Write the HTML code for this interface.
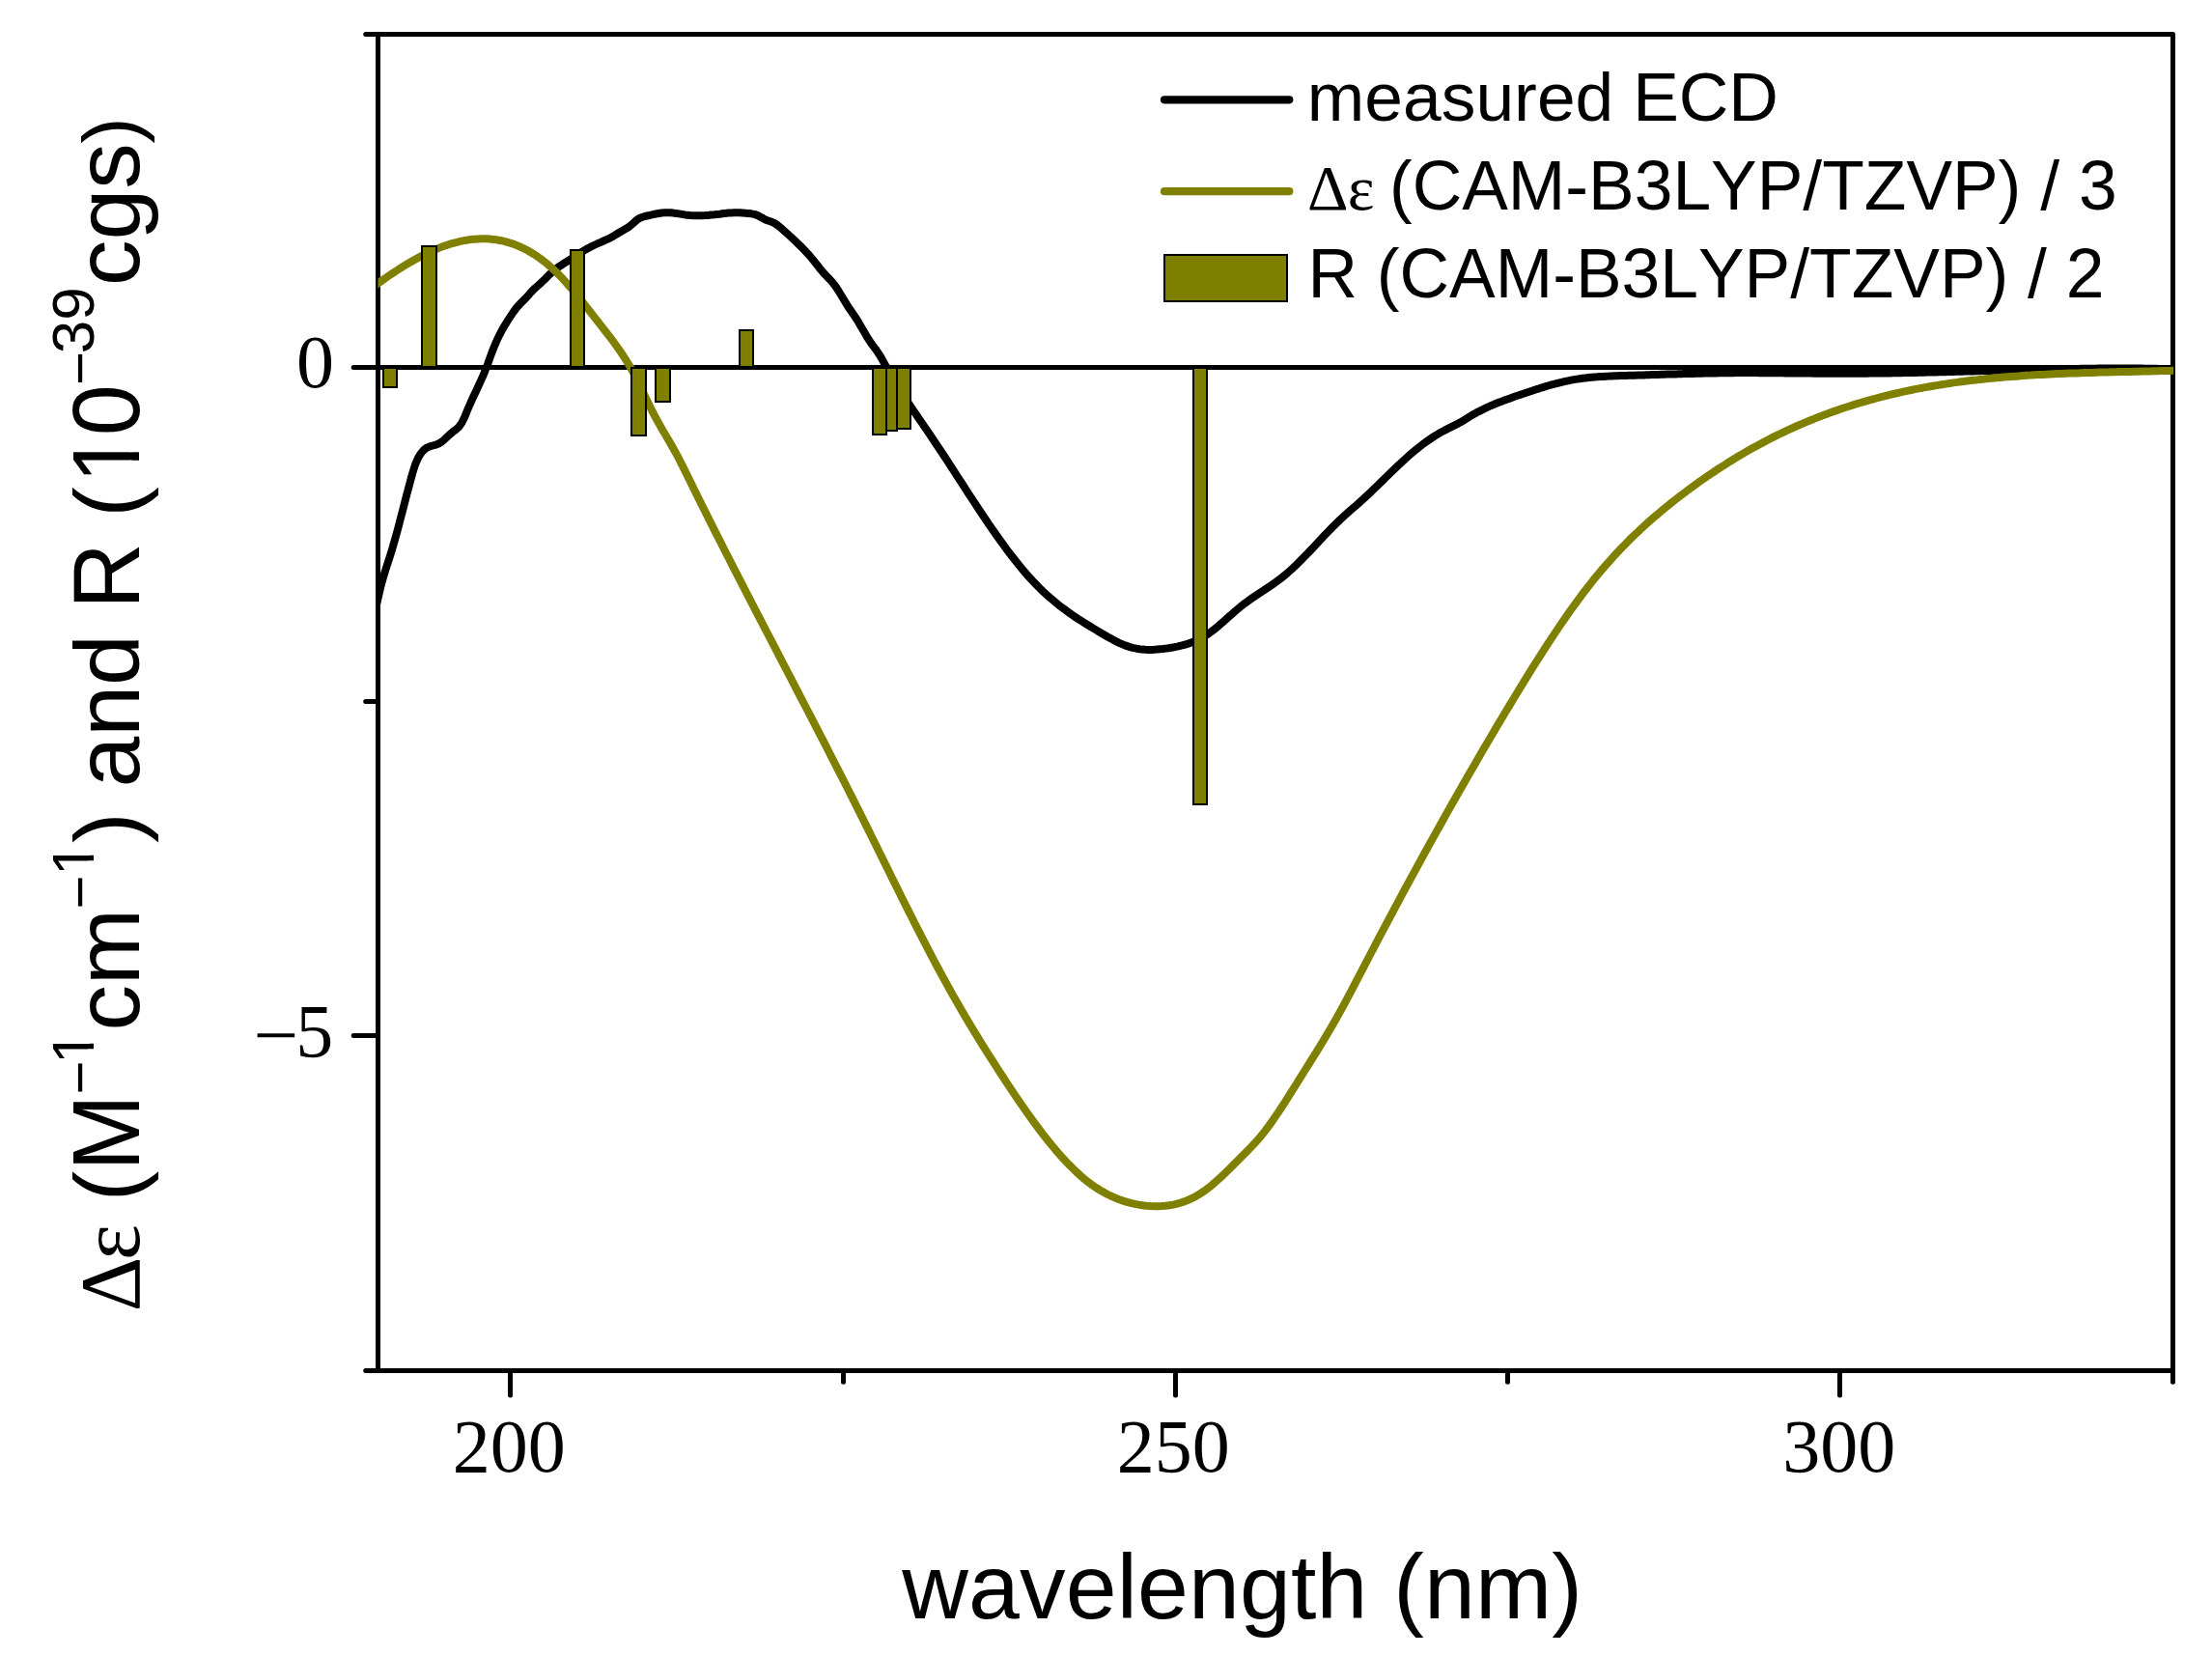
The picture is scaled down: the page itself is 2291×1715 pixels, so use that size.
<!DOCTYPE html>
<html><head><meta charset="utf-8"><title>ECD spectrum</title>
<style>html,body{margin:0;padding:0;background:#fff}svg text{font-kerning:none;fill:#000}</style></head>
<body>
<svg width="2291" height="1715" viewBox="0 0 2291 1715" style="display:block">
<defs><clipPath id="pc"><rect x="391.5" y="0" width="1859.6" height="1715"/></clipPath><clipPath id="one62"><rect x="-2" y="-62.00" width="62.00" height="55.99"/><rect x="15.59" y="-9.30" width="5.47" height="10.30"/></clipPath><clipPath id="one95"><rect x="-2" y="-95.00" width="95.00" height="85.78"/><rect x="23.89" y="-14.25" width="8.39" height="15.25"/></clipPath></defs>
<rect width="2291" height="1715" fill="#fff"/>
<g stroke="#000" stroke-width="5" stroke-linecap="round" stroke-linejoin="round" fill="none">
<path d="M391.5,35.5 H2250.5 V1419.5 H391.5 Z"/>
<path d="M391.5,380.5 H2250.5" stroke-width="5" stroke-linecap="butt"/>
<path d="M378.7,35.5 H391.5"/>
<path d="M366.2,380.5 H391.5"/>
<path d="M378.7,726.5 H391.5"/>
<path d="M366.2,1072.5 H391.5"/>
<path d="M378.7,1419.5 H391.5"/>
<path d="M528.5,1419.5 V1445.0"/>
<path d="M873.5,1419.5 V1431.2"/>
<path d="M1217.5,1419.5 V1445.0"/>
<path d="M1561.5,1419.5 V1431.2"/>
<path d="M1905.5,1419.5 V1445.0"/>
<path d="M2250.5,1419.5 V1431.2"/>
</g>
<g clip-path="url(#pc)" fill="none" stroke-width="8.0" stroke-linejoin="round" stroke-linecap="butt">
<path d="M383.2,655.9 L391.2,621.0 L394.2,607.9 L397.2,597.0 L400.2,587.4 L403.2,578.2 L406.2,568.6 L409.2,558.2 L412.2,547.2 L415.2,535.7 L418.2,524.2 L421.2,512.6 L424.2,501.2 L427.2,490.1 L430.2,480.6 L433.2,473.8 L436.2,469.1 L439.2,465.8 L442.2,463.6 L445.2,462.3 L448.2,461.5 L451.2,460.7 L454.2,459.6 L457.2,457.7 L460.2,455.2 L463.2,452.4 L466.2,449.6 L469.2,447.1 L472.2,444.9 L475.2,442.2 L478.2,438.0 L481.2,431.9 L484.2,424.6 L487.2,417.6 L490.2,411.0 L493.2,404.7 L496.2,398.3 L499.2,391.7 L502.2,384.6 L505.2,376.9 L508.2,368.5 L511.2,360.5 L514.2,353.4 L517.2,347.1 L520.2,341.4 L523.2,336.3 L526.2,331.5 L529.2,326.9 L532.2,322.5 L535.2,318.5 L538.2,315.2 L541.2,312.2 L544.2,309.2 L547.2,305.8 L550.2,302.4 L553.2,299.3 L556.2,296.6 L559.2,294.0 L562.2,291.2 L565.2,288.3 L568.2,285.2 L571.2,282.3 L574.2,279.7 L577.2,277.4 L580.2,275.3 L583.2,273.3 L586.2,271.5 L589.2,269.6 L592.2,267.7 L595.2,265.7 L598.2,263.7 L601.2,261.7 L604.2,259.9 L607.2,258.1 L610.2,256.5 L613.2,254.9 L616.2,253.5 L619.2,252.1 L622.2,250.8 L625.2,249.5 L628.2,248.2 L631.2,246.8 L634.2,245.2 L637.2,243.4 L640.2,241.5 L643.2,239.7 L646.2,238.0 L649.2,236.3 L652.2,234.3 L655.2,231.8 L658.2,229.0 L661.2,226.7 L664.2,225.2 L667.2,224.2 L670.2,223.5 L673.2,222.8 L676.2,222.1 L679.2,221.5 L682.2,221.0 L685.2,220.5 L688.2,220.3 L691.2,220.2 L694.2,220.3 L697.2,220.6 L700.2,221.0 L703.2,221.4 L706.2,221.9 L709.2,222.4 L712.2,222.7 L715.2,223.0 L718.2,223.2 L721.2,223.2 L724.2,223.3 L727.2,223.2 L730.2,223.1 L733.2,222.9 L736.2,222.6 L739.2,222.4 L742.2,222.0 L745.2,221.7 L748.2,221.3 L751.2,220.9 L754.2,220.6 L757.2,220.4 L760.2,220.2 L763.2,220.2 L766.2,220.3 L769.2,220.5 L772.2,220.7 L775.2,221.0 L778.2,221.3 L781.2,221.9 L784.2,222.9 L787.2,224.4 L790.2,226.1 L793.2,227.7 L796.2,228.8 L799.2,229.8 L802.2,231.2 L805.2,233.2 L808.2,235.6 L811.2,238.2 L814.2,240.9 L817.2,243.6 L820.2,246.4 L823.2,249.2 L826.2,252.1 L829.2,255.0 L832.2,258.0 L835.2,261.2 L838.2,264.5 L841.2,268.0 L844.2,271.8 L847.2,275.6 L850.2,279.4 L853.2,282.9 L856.2,286.0 L859.2,289.1 L862.2,292.4 L865.2,296.2 L868.2,300.8 L871.2,305.8 L874.2,310.8 L877.2,315.7 L880.2,320.2 L883.2,324.6 L886.2,329.0 L889.2,333.7 L892.2,338.9 L895.2,344.1 L898.2,349.3 L901.2,353.9 L904.2,358.1 L907.2,362.0 L910.2,366.4 L913.2,371.4 L916.2,376.9 L919.2,382.3 L922.2,387.6 L925.2,392.7 L928.2,397.7 L931.2,402.5 L934.2,407.3 L937.2,411.9 L940.2,416.5 L943.2,421.0 L946.2,425.4 L949.2,429.8 L952.2,434.2 L955.2,438.6 L958.2,443.0 L961.2,447.3 L964.2,451.7 L967.2,456.2 L970.2,460.7 L973.2,465.2 L976.2,469.7 L979.2,474.3 L982.2,478.9 L985.2,483.5 L988.2,488.1 L991.2,492.8 L994.2,497.4 L997.2,502.0 L1000.2,506.6 L1003.2,511.3 L1006.2,515.9 L1009.2,520.4 L1012.2,525.0 L1015.2,529.5 L1018.2,534.0 L1021.2,538.5 L1024.2,542.9 L1027.2,547.3 L1030.2,551.6 L1033.2,555.9 L1036.2,560.1 L1039.2,564.2 L1042.2,568.3 L1045.2,572.3 L1048.2,576.2 L1051.2,580.0 L1054.2,583.8 L1057.2,587.5 L1060.2,591.1 L1063.2,594.6 L1066.2,598.0 L1069.2,601.3 L1072.2,604.4 L1075.2,607.5 L1078.2,610.5 L1081.2,613.3 L1084.2,616.1 L1087.2,618.8 L1090.2,621.3 L1093.2,623.8 L1096.2,626.3 L1099.2,628.6 L1102.2,630.8 L1105.2,633.0 L1108.2,635.2 L1111.2,637.3 L1114.2,639.3 L1117.2,641.3 L1120.2,643.2 L1123.2,645.1 L1126.2,647.0 L1129.2,648.8 L1132.2,650.6 L1135.2,652.4 L1138.2,654.2 L1141.2,656.0 L1144.2,657.7 L1147.2,659.5 L1150.2,661.1 L1153.2,662.8 L1156.2,664.3 L1159.2,665.8 L1162.2,667.1 L1165.2,668.4 L1168.2,669.4 L1171.2,670.4 L1174.2,671.1 L1177.2,671.7 L1180.2,672.2 L1183.2,672.6 L1186.2,672.8 L1189.2,672.9 L1192.2,672.9 L1195.2,672.8 L1198.2,672.6 L1201.2,672.3 L1204.2,672.0 L1207.2,671.6 L1210.2,671.2 L1213.2,670.7 L1216.2,670.2 L1219.2,669.6 L1222.2,668.9 L1225.2,668.2 L1228.2,667.3 L1231.2,666.4 L1234.2,665.3 L1237.2,664.1 L1240.2,662.8 L1243.2,661.3 L1246.2,659.7 L1249.2,657.8 L1252.2,655.8 L1255.2,653.7 L1258.2,651.3 L1261.2,648.9 L1264.2,646.3 L1267.2,643.7 L1270.2,641.0 L1273.2,638.3 L1276.2,635.7 L1279.2,633.0 L1282.2,630.5 L1285.2,628.0 L1288.2,625.6 L1291.2,623.4 L1294.2,621.2 L1297.2,619.1 L1300.2,617.1 L1303.2,615.1 L1306.2,613.1 L1309.2,611.2 L1312.2,609.2 L1315.2,607.2 L1318.2,605.1 L1321.2,603.0 L1324.2,600.8 L1327.2,598.5 L1330.2,596.1 L1333.2,593.6 L1336.2,590.9 L1339.2,588.2 L1342.2,585.3 L1345.2,582.4 L1348.2,579.4 L1351.2,576.3 L1354.2,573.2 L1357.2,570.1 L1360.2,566.9 L1363.2,563.7 L1366.2,560.5 L1369.2,557.3 L1372.2,554.1 L1375.2,551.0 L1378.2,547.9 L1381.2,544.8 L1384.2,541.9 L1387.2,539.0 L1390.2,536.2 L1393.2,533.4 L1396.2,530.7 L1399.2,528.1 L1402.2,525.5 L1405.2,522.9 L1408.2,520.2 L1411.2,517.5 L1414.2,514.8 L1417.2,512.0 L1420.2,509.1 L1423.2,506.2 L1426.2,503.3 L1429.2,500.4 L1432.2,497.5 L1435.2,494.5 L1438.2,491.6 L1441.2,488.7 L1444.2,485.8 L1447.2,482.9 L1450.2,480.1 L1453.2,477.3 L1456.2,474.6 L1459.2,471.9 L1462.2,469.3 L1465.2,466.8 L1468.2,464.4 L1471.2,462.0 L1474.2,459.7 L1477.2,457.5 L1480.2,455.4 L1483.2,453.4 L1486.2,451.4 L1489.2,449.6 L1492.2,447.8 L1495.2,446.2 L1498.2,444.6 L1501.2,443.1 L1504.2,441.6 L1507.2,440.1 L1510.2,438.6 L1513.2,436.9 L1516.2,435.2 L1519.2,433.3 L1522.2,431.4 L1525.2,429.6 L1528.2,427.9 L1531.2,426.3 L1534.2,424.8 L1537.2,423.3 L1540.2,421.9 L1543.2,420.5 L1546.2,419.3 L1549.2,418.0 L1552.2,416.8 L1555.2,415.7 L1558.2,414.6 L1561.2,413.5 L1564.2,412.4 L1567.2,411.3 L1570.2,410.3 L1573.2,409.3 L1576.2,408.2 L1579.2,407.2 L1582.2,406.2 L1585.2,405.2 L1588.2,404.2 L1591.2,403.2 L1594.2,402.3 L1597.2,401.3 L1600.2,400.4 L1603.2,399.5 L1606.2,398.7 L1609.2,397.9 L1612.2,397.1 L1615.2,396.3 L1618.2,395.6 L1621.2,394.9 L1624.2,394.3 L1627.2,393.7 L1630.2,393.1 L1633.2,392.6 L1636.2,392.2 L1639.2,391.8 L1642.2,391.4 L1645.2,391.1 L1648.2,390.8 L1651.2,390.5 L1654.2,390.3 L1657.2,390.0 L1660.2,389.9 L1663.2,389.7 L1666.2,389.6 L1669.2,389.4 L1672.2,389.3 L1675.2,389.2 L1678.2,389.1 L1681.2,389.0 L1684.2,388.9 L1687.2,388.8 L1690.2,388.7 L1693.2,388.7 L1696.2,388.6 L1699.2,388.5 L1702.2,388.4 L1705.2,388.3 L1708.2,388.2 L1711.2,388.1 L1714.2,388.0 L1717.2,387.9 L1720.2,387.8 L1723.2,387.7 L1726.2,387.6 L1729.2,387.5 L1732.2,387.4 L1735.2,387.4 L1738.2,387.3 L1741.2,387.2 L1744.2,387.1 L1747.2,387.0 L1750.2,386.9 L1753.2,386.9 L1756.2,386.8 L1759.2,386.7 L1762.2,386.7 L1765.2,386.6 L1768.2,386.5 L1771.2,386.5 L1774.2,386.4 L1777.2,386.4 L1780.2,386.3 L1783.2,386.3 L1786.2,386.2 L1789.2,386.2 L1792.2,386.2 L1795.2,386.2 L1798.2,386.1 L1801.2,386.1 L1804.2,386.1 L1807.2,386.1 L1810.2,386.1 L1813.2,386.1 L1816.2,386.1 L1819.2,386.1 L1822.2,386.2 L1825.2,386.2 L1828.2,386.2 L1831.2,386.2 L1834.2,386.2 L1837.2,386.3 L1840.2,386.3 L1843.2,386.3 L1846.2,386.3 L1849.2,386.4 L1852.2,386.4 L1855.2,386.4 L1858.2,386.5 L1861.2,386.5 L1864.2,386.5 L1867.2,386.6 L1870.2,386.6 L1873.2,386.6 L1876.2,386.6 L1879.2,386.7 L1882.2,386.7 L1885.2,386.7 L1888.2,386.7 L1891.2,386.8 L1894.2,386.8 L1897.2,386.8 L1900.2,386.8 L1903.2,386.8 L1906.2,386.8 L1909.2,386.8 L1912.2,386.8 L1915.2,386.8 L1918.2,386.8 L1921.2,386.8 L1924.2,386.7 L1927.2,386.7 L1930.2,386.7 L1933.2,386.7 L1936.2,386.6 L1939.2,386.6 L1942.2,386.6 L1945.2,386.5 L1948.2,386.5 L1951.2,386.5 L1954.2,386.4 L1957.2,386.4 L1960.2,386.3 L1963.2,386.3 L1966.2,386.2 L1969.2,386.2 L1972.2,386.1 L1975.2,386.0 L1978.2,386.0 L1981.2,385.9 L1984.2,385.9 L1987.2,385.8 L1990.2,385.7 L1993.2,385.7 L1996.2,385.6 L1999.2,385.5 L2002.2,385.5 L2005.2,385.4 L2008.2,385.3 L2011.2,385.2 L2014.2,385.2 L2017.2,385.1 L2020.2,385.0 L2023.2,384.9 L2026.2,384.8 L2029.2,384.8 L2032.2,384.7 L2035.2,384.6 L2038.2,384.5 L2041.2,384.4 L2044.2,384.4 L2047.2,384.3 L2050.2,384.2 L2053.2,384.1 L2056.2,384.0 L2059.2,384.0 L2062.2,383.9 L2065.2,383.8 L2068.2,383.7 L2071.2,383.6 L2074.2,383.6 L2077.2,383.5 L2080.2,383.4 L2083.2,383.3 L2086.2,383.2 L2089.2,383.2 L2092.2,383.1 L2095.2,383.0 L2098.2,382.9 L2101.2,382.9 L2104.2,382.8 L2107.2,382.7 L2110.2,382.7 L2113.2,382.6 L2116.2,382.5 L2119.2,382.5 L2122.2,382.4 L2125.2,382.3 L2128.2,382.3 L2131.2,382.2 L2134.2,382.2 L2137.2,382.1 L2140.2,382.1 L2143.2,382.0 L2146.2,382.0 L2149.2,381.9 L2152.2,381.9 L2155.2,381.8 L2158.2,381.8 L2161.2,381.8 L2164.2,381.7 L2167.2,381.7 L2170.2,381.7 L2173.2,381.6 L2176.2,381.6 L2179.2,381.6 L2182.2,381.6 L2185.2,381.6 L2188.2,381.6 L2191.2,381.6 L2194.2,381.6 L2197.2,381.6 L2200.2,381.6 L2203.2,381.6 L2206.2,381.6 L2209.2,381.6 L2212.2,381.6 L2215.2,381.6 L2218.2,381.6 L2221.2,381.7 L2224.2,381.7 L2227.2,381.7 L2230.2,381.8 L2233.2,381.8 L2236.2,381.9 L2239.2,381.9 L2242.2,382.0 L2245.2,382.1 L2248.2,382.1 L2250.0,382.2 L2258.0,382.3" stroke="#000"/>
<path d="M383.2,299.5 L391.2,293.7 L395.2,290.9 L399.2,288.0 L403.2,285.3 L407.2,282.6 L411.2,280.0 L415.2,277.4 L419.2,274.9 L423.2,272.5 L427.2,270.2 L431.2,268.0 L435.2,265.8 L439.2,263.8 L443.2,261.8 L447.2,260.0 L451.2,258.2 L455.2,256.6 L459.2,255.1 L463.2,253.7 L467.2,252.4 L471.2,251.3 L475.2,250.3 L479.2,249.4 L483.2,248.7 L487.2,248.1 L491.2,247.7 L495.2,247.4 L499.2,247.3 L503.2,247.3 L507.2,247.5 L511.2,247.9 L515.2,248.5 L519.2,249.2 L523.2,250.1 L527.2,251.3 L531.2,252.6 L535.2,254.1 L539.2,255.8 L543.2,257.7 L547.2,259.8 L551.2,262.2 L555.2,264.7 L559.2,267.5 L563.2,270.5 L567.2,273.7 L571.2,277.2 L575.2,280.9 L579.2,284.9 L583.2,289.1 L587.2,293.5 L591.2,298.0 L595.2,302.8 L599.2,307.7 L603.2,312.6 L607.2,317.7 L611.2,322.8 L615.2,327.9 L619.2,333.0 L623.2,338.1 L627.2,343.2 L631.2,348.4 L635.2,353.7 L639.2,359.3 L643.2,365.0 L647.2,371.1 L651.2,377.5 L655.2,384.5 L659.2,392.2 L663.2,400.4 L667.2,408.8 L671.2,417.1 L675.2,425.1 L679.2,432.8 L683.2,440.0 L687.2,447.0 L691.2,453.8 L695.2,460.6 L699.2,467.7 L703.2,475.2 L707.2,483.1 L711.2,491.1 L715.2,499.3 L719.2,507.4 L723.2,515.5 L727.2,523.5 L731.2,531.5 L735.2,539.5 L739.2,547.5 L743.2,555.4 L747.2,563.3 L751.2,571.2 L755.2,579.0 L759.2,586.8 L763.2,594.6 L767.2,602.4 L771.2,610.2 L775.2,617.9 L779.2,625.7 L783.2,633.4 L787.2,641.1 L791.2,648.8 L795.2,656.5 L799.2,664.2 L803.2,671.9 L807.2,679.6 L811.2,687.3 L815.2,695.0 L819.2,702.7 L823.2,710.4 L827.2,718.1 L831.2,725.8 L835.2,733.5 L839.2,741.2 L843.2,748.9 L847.2,756.6 L851.2,764.4 L855.2,772.2 L859.2,780.0 L863.2,787.8 L867.2,795.6 L871.2,803.4 L875.2,811.3 L879.2,819.2 L883.2,827.1 L887.2,835.1 L891.2,843.1 L895.2,851.1 L899.2,859.1 L903.2,867.2 L907.2,875.3 L911.2,883.4 L915.2,891.5 L919.2,899.6 L923.2,907.7 L927.2,915.8 L931.2,923.8 L935.2,931.9 L939.2,939.9 L943.2,947.8 L947.2,955.8 L951.2,963.6 L955.2,971.4 L959.2,979.2 L963.2,986.9 L967.2,994.5 L971.2,1002.0 L975.2,1009.4 L979.2,1016.7 L983.2,1024.0 L987.2,1031.1 L991.2,1038.1 L995.2,1045.0 L999.2,1051.9 L1003.2,1058.6 L1007.2,1065.3 L1011.2,1071.8 L1015.2,1078.3 L1019.2,1084.8 L1023.2,1091.1 L1027.2,1097.4 L1031.2,1103.7 L1035.2,1109.9 L1039.2,1116.0 L1043.2,1122.1 L1047.2,1128.1 L1051.2,1134.1 L1055.2,1139.9 L1059.2,1145.7 L1063.2,1151.5 L1067.2,1157.1 L1071.2,1162.6 L1075.2,1168.0 L1079.2,1173.3 L1083.2,1178.5 L1087.2,1183.5 L1091.2,1188.3 L1095.2,1193.1 L1099.2,1197.6 L1103.2,1202.0 L1107.2,1206.2 L1111.2,1210.2 L1115.2,1214.0 L1119.2,1217.7 L1123.2,1221.1 L1127.2,1224.3 L1131.2,1227.2 L1135.2,1230.0 L1139.2,1232.5 L1143.2,1234.8 L1147.2,1237.0 L1151.2,1238.9 L1155.2,1240.6 L1159.2,1242.2 L1163.2,1243.6 L1167.2,1244.8 L1171.2,1245.9 L1175.2,1246.8 L1179.2,1247.6 L1183.2,1248.2 L1187.2,1248.7 L1191.2,1249.0 L1195.2,1249.2 L1199.2,1249.3 L1203.2,1249.1 L1207.2,1248.8 L1211.2,1248.3 L1215.2,1247.6 L1219.2,1246.7 L1223.2,1245.5 L1227.2,1244.1 L1231.2,1242.5 L1235.2,1240.7 L1239.2,1238.5 L1243.2,1236.1 L1247.2,1233.4 L1251.2,1230.5 L1255.2,1227.3 L1259.2,1223.8 L1263.2,1220.2 L1267.2,1216.5 L1271.2,1212.6 L1275.2,1208.6 L1279.2,1204.6 L1283.2,1200.6 L1287.2,1196.6 L1291.2,1192.6 L1295.2,1188.5 L1299.2,1184.3 L1303.2,1179.8 L1307.2,1175.1 L1311.2,1170.0 L1315.2,1164.6 L1319.2,1158.9 L1323.2,1153.1 L1327.2,1147.0 L1331.2,1140.8 L1335.2,1134.5 L1339.2,1128.2 L1343.2,1121.8 L1347.2,1115.4 L1351.2,1109.0 L1355.2,1102.6 L1359.2,1096.2 L1363.2,1089.8 L1367.2,1083.3 L1371.2,1076.7 L1375.2,1070.0 L1379.2,1063.2 L1383.2,1056.3 L1387.2,1049.1 L1391.2,1041.8 L1395.2,1034.4 L1399.2,1026.8 L1403.2,1019.2 L1407.2,1011.5 L1411.2,1003.8 L1415.2,996.1 L1419.2,988.5 L1423.2,980.8 L1427.2,973.2 L1431.2,965.7 L1435.2,958.1 L1439.2,950.6 L1443.2,943.1 L1447.2,935.6 L1451.2,928.2 L1455.2,920.7 L1459.2,913.3 L1463.2,906.0 L1467.2,898.6 L1471.2,891.3 L1475.2,884.0 L1479.2,876.8 L1483.2,869.6 L1487.2,862.4 L1491.2,855.2 L1495.2,848.0 L1499.2,840.9 L1503.2,833.8 L1507.2,826.8 L1511.2,819.7 L1515.2,812.7 L1519.2,805.7 L1523.2,798.8 L1527.2,791.9 L1531.2,785.0 L1535.2,778.1 L1539.2,771.3 L1543.2,764.5 L1547.2,757.7 L1551.2,750.9 L1555.2,744.2 L1559.2,737.5 L1563.2,730.9 L1567.2,724.3 L1571.2,717.7 L1575.2,711.1 L1579.2,704.6 L1583.2,698.1 L1587.2,691.7 L1591.2,685.4 L1595.2,679.1 L1599.2,672.9 L1603.2,666.7 L1607.2,660.6 L1611.2,654.6 L1615.2,648.6 L1619.2,642.8 L1623.2,637.0 L1627.2,631.3 L1631.2,625.8 L1635.2,620.3 L1639.2,614.9 L1643.2,609.7 L1647.2,604.6 L1651.2,599.6 L1655.2,594.7 L1659.2,589.9 L1663.2,585.3 L1667.2,580.8 L1671.2,576.3 L1675.2,572.0 L1679.2,567.8 L1683.2,563.7 L1687.2,559.7 L1691.2,555.7 L1695.2,551.9 L1699.2,548.1 L1703.2,544.4 L1707.2,540.8 L1711.2,537.3 L1715.2,533.8 L1719.2,530.5 L1723.2,527.1 L1727.2,523.9 L1731.2,520.7 L1735.2,517.5 L1739.2,514.4 L1743.2,511.4 L1747.2,508.4 L1751.2,505.4 L1755.2,502.5 L1759.2,499.6 L1763.2,496.8 L1767.2,494.0 L1771.2,491.3 L1775.2,488.6 L1779.2,485.9 L1783.2,483.3 L1787.2,480.8 L1791.2,478.2 L1795.2,475.8 L1799.2,473.3 L1803.2,471.0 L1807.2,468.6 L1811.2,466.3 L1815.2,464.1 L1819.2,461.9 L1823.2,459.7 L1827.2,457.6 L1831.2,455.5 L1835.2,453.4 L1839.2,451.4 L1843.2,449.5 L1847.2,447.6 L1851.2,445.7 L1855.2,443.8 L1859.2,442.0 L1863.2,440.3 L1867.2,438.6 L1871.2,436.9 L1875.2,435.2 L1879.2,433.6 L1883.2,432.0 L1887.2,430.5 L1891.2,429.0 L1895.2,427.5 L1899.2,426.1 L1903.2,424.7 L1907.2,423.3 L1911.2,422.0 L1915.2,420.7 L1919.2,419.4 L1923.2,418.2 L1927.2,417.0 L1931.2,415.8 L1935.2,414.7 L1939.2,413.6 L1943.2,412.5 L1947.2,411.4 L1951.2,410.4 L1955.2,409.4 L1959.2,408.4 L1963.2,407.5 L1967.2,406.6 L1971.2,405.7 L1975.2,404.8 L1979.2,404.0 L1983.2,403.2 L1987.2,402.4 L1991.2,401.7 L1995.2,400.9 L1999.2,400.2 L2003.2,399.5 L2007.2,398.9 L2011.2,398.2 L2015.2,397.6 L2019.2,397.0 L2023.2,396.4 L2027.2,395.9 L2031.2,395.3 L2035.2,394.8 L2039.2,394.3 L2043.2,393.8 L2047.2,393.4 L2051.2,392.9 L2055.2,392.5 L2059.2,392.1 L2063.2,391.7 L2067.2,391.3 L2071.2,391.0 L2075.2,390.6 L2079.2,390.3 L2083.2,390.0 L2087.2,389.7 L2091.2,389.4 L2095.2,389.1 L2099.2,388.8 L2103.2,388.6 L2107.2,388.3 L2111.2,388.1 L2115.2,387.9 L2119.2,387.7 L2123.2,387.5 L2127.2,387.3 L2131.2,387.1 L2135.2,387.0 L2139.2,386.8 L2143.2,386.6 L2147.2,386.5 L2151.2,386.4 L2155.2,386.2 L2159.2,386.1 L2163.2,386.0 L2167.2,385.9 L2171.2,385.7 L2175.2,385.6 L2179.2,385.5 L2183.2,385.4 L2187.2,385.3 L2191.2,385.2 L2195.2,385.1 L2199.2,385.1 L2203.2,385.0 L2207.2,384.9 L2211.2,384.8 L2215.2,384.7 L2219.2,384.6 L2223.2,384.5 L2227.2,384.4 L2231.2,384.3 L2235.2,384.2 L2239.2,384.1 L2243.2,384.0 L2247.2,383.9 L2250.8,383.8 L2258.8,383.6" stroke="#808000"/>
</g>
<rect x="397.0" y="381.0" width="14.0" height="20.0" fill="#808000" stroke="#000" stroke-width="2.0"/>
<rect x="437.0" y="255.0" width="15.0" height="125.0" fill="#808000" stroke="#000" stroke-width="2.0"/>
<rect x="591.0" y="259.0" width="14.0" height="121.0" fill="#808000" stroke="#000" stroke-width="2.0"/>
<rect x="654.0" y="381.0" width="15.0" height="70.0" fill="#808000" stroke="#000" stroke-width="2.0"/>
<rect x="679.0" y="381.0" width="15.0" height="35.0" fill="#808000" stroke="#000" stroke-width="2.0"/>
<rect x="766.0" y="342.0" width="14.0" height="38.0" fill="#808000" stroke="#000" stroke-width="2.0"/>
<rect x="916.0" y="381.0" width="13.0" height="65.0" fill="#808000" stroke="#000" stroke-width="2.0"/>
<rect x="904.0" y="381.0" width="14.0" height="69.0" fill="#808000" stroke="#000" stroke-width="2.0"/>
<rect x="929.0" y="381.0" width="14.0" height="63.0" fill="#808000" stroke="#000" stroke-width="2.0"/>
<rect x="1236.0" y="381.0" width="14.0" height="452.0" fill="#808000" stroke="#000" stroke-width="2.0"/>
<g font-family="Liberation Serif, Times New Roman, serif" font-size="78" fill="#000">
<text x="307" y="401">0</text>
<text x="306.2" y="1094.3">5</text>
<text x="262.4" y="1100.4" font-size="83">−</text>
<text x="468.7" y="1523.8">200</text>
<text x="1156.8" y="1523.8">250</text>
<text x="1846.2" y="1523.8">300</text>
</g>
<text x="934.3" y="1675.8" font-family="Liberation Sans, Arial, sans-serif" font-size="95" letter-spacing="0.17">wavelength (nm)</text>
<text transform="translate(144.3,1358.3) rotate(-90)" font-family="Liberation Serif, Times New Roman, serif" font-size="88" >Δ</text>
<text transform="translate(144.3,1305.1) rotate(-90)" font-family="Liberation Serif, Times New Roman, serif" font-size="88" >ε</text>
<text transform="translate(144.3,1244.2) rotate(-90)" font-family="Liberation Sans, Arial, sans-serif" font-size="95" >(</text>
<text transform="translate(144.3,1212.6) rotate(-90) scale(1,1.04)" font-family="Liberation Sans, Arial, sans-serif" font-size="95" >M</text>
<text transform="translate(102.8,1133.6) rotate(-90)" font-family="Liberation Sans, Arial, sans-serif" font-size="60" >−</text>
<text transform="translate(97.4,1101.9) rotate(-90)" font-family="Liberation Sans, Arial, sans-serif" font-size="62" clip-path="url(#one62)">1</text>
<text transform="translate(144.3,1067.4) rotate(-90)" font-family="Liberation Sans, Arial, sans-serif" font-size="95" >cm</text>
<text transform="translate(102.8,941.4) rotate(-90)" font-family="Liberation Sans, Arial, sans-serif" font-size="60" >−</text>
<text transform="translate(97.4,906.9) rotate(-90)" font-family="Liberation Sans, Arial, sans-serif" font-size="62" clip-path="url(#one62)">1</text>
<text transform="translate(144.3,873.0) rotate(-90)" font-family="Liberation Sans, Arial, sans-serif" font-size="95" >)</text>
<text transform="translate(144.3,815.6) rotate(-90)" font-family="Liberation Sans, Arial, sans-serif" font-size="95" >and</text>
<text transform="translate(144.3,630.7) rotate(-90) scale(1,1.04)" font-family="Liberation Sans, Arial, sans-serif" font-size="95" >R</text>
<text transform="translate(144.3,535.7) rotate(-90)" font-family="Liberation Sans, Arial, sans-serif" font-size="95" >(</text>
<text transform="translate(144.3,500.6) rotate(-90) scale(1,1.04)" font-family="Liberation Sans, Arial, sans-serif" font-size="95" clip-path="url(#one95)">1</text>
<text transform="translate(144.3,451.2) rotate(-90) scale(1,1.04)" font-family="Liberation Sans, Arial, sans-serif" font-size="95" >0</text>
<text transform="translate(102.8,398.9) rotate(-90)" font-family="Liberation Sans, Arial, sans-serif" font-size="60" >−</text>
<text transform="translate(97.4,366.2) rotate(-90)" font-family="Liberation Sans, Arial, sans-serif" font-size="62" >39</text>
<text transform="translate(144.3,296.0) rotate(-90)" font-family="Liberation Sans, Arial, sans-serif" font-size="95" >cgs</text>
<text transform="translate(143.2,148.7) rotate(-90)" font-family="Liberation Sans, Arial, sans-serif" font-size="82" >)</text>
<path d="M1206,103.3 H1335.3" stroke="#000" stroke-width="8.2" stroke-linecap="round"/>
<path d="M1206,198.2 H1335.3" stroke="#808000" stroke-width="8.2" stroke-linecap="round"/>
<rect x="1206" y="264" width="127" height="48" fill="#808000" stroke="#000" stroke-width="2"/>
<text x="1353.8" y="124.8" font-family="Liberation Sans, Arial, sans-serif" font-size="69.5" textLength="488.1" lengthAdjust="spacingAndGlyphs">measured ECD</text>
<text x="1354" y="217.2" font-family="Liberation Serif, Times New Roman, serif" font-size="66">Δ</text>
<text x="1395.7" y="217.2" font-family="Liberation Serif, Times New Roman, serif" font-size="66">ε</text>
<text x="1438.9" y="217.2" font-family="Liberation Sans, Arial, sans-serif" font-size="71.4">(CAM-B3LYP/TZVP) / 3</text>
<text x="1354.4" y="307.8" font-family="Liberation Sans, Arial, sans-serif" font-size="71.4">R (CAM-B3LYP/TZVP) / 2</text>
</svg>
</body></html>
